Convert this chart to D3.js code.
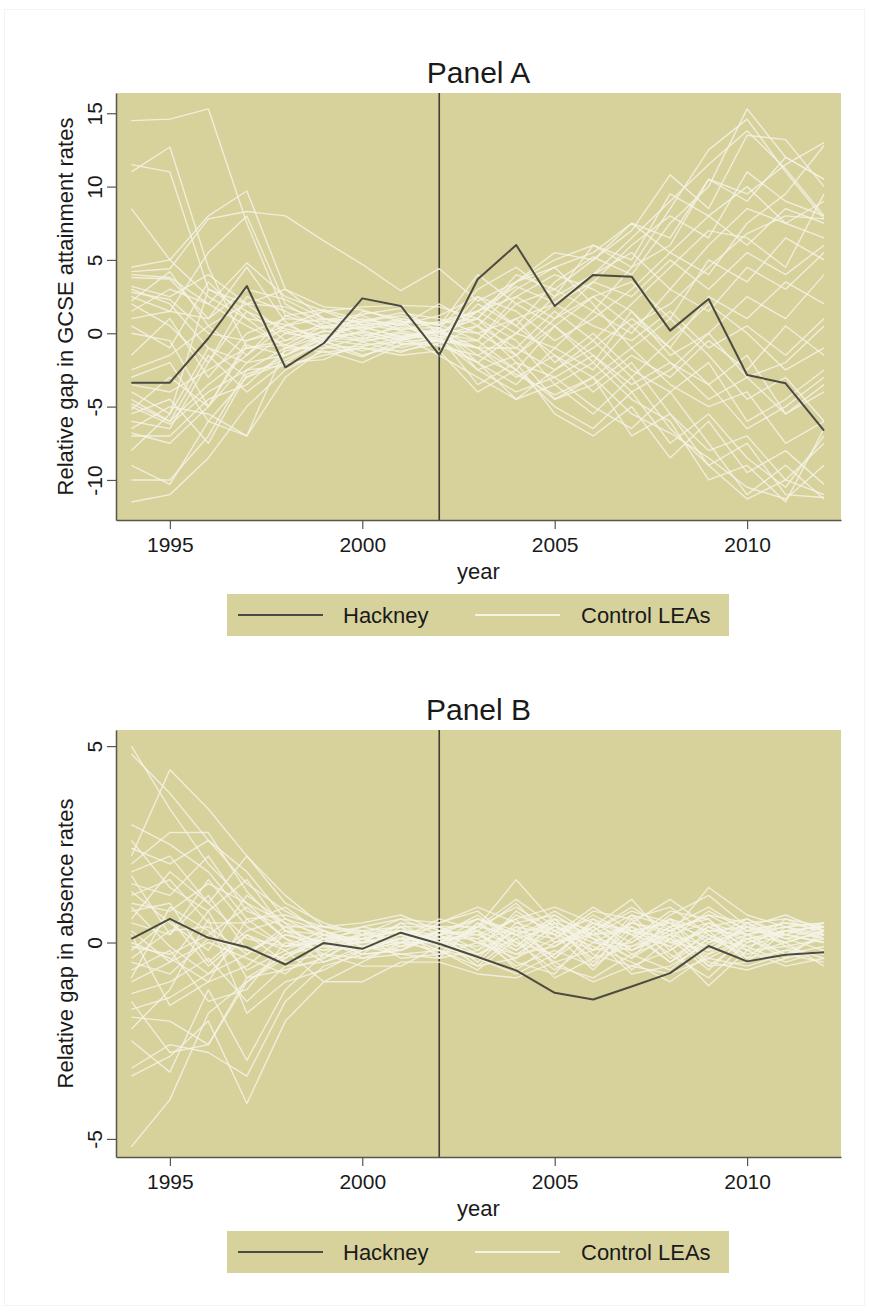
<!DOCTYPE html>
<html>
<head>
<meta charset="utf-8">
<script src="https://cdn.jsdelivr.net/npm/d3@7"></script>
<style>
  html, body { margin: 0; padding: 0; background: #ffffff; }
  svg { display: block; font-family: "Liberation Sans", Arial, sans-serif; }
</style>
</head>
<body>
<svg id="chart" width="869" height="1313"></svg>
<script>
// Years covered by both panels
const years = [1994,1995,1996,1997,1998,1999,2000,2001,2002,2003,2004,2005,2006,2007,2008,2009,2010,2011,2012];
const xTicks = [1995, 2000, 2005, 2010];
const reformYear = 2002;

// Panel A: relative gap in GCSE attainment rates
const hackneyA = [-3.37,-3.37,-0.34,3.22,-2.32,-0.68,2.38,1.86,-1.48,3.68,6.02,1.86,3.98,3.86,0.18,2.34,-2.84,-3.41,-6.64];
const controlsA = [
  [14.5,14.6,15.3,7.5,1.2,0.4,0.6,0.2,-0.4,1.5,3.2,2.1,4.0,6.5,9.0,11.5,13.8,11.2,8.0],
  [11.5,11.0,3.0,1.5,0.3,-0.2,0.5,-0.3,0.2,-1.5,-2.8,-4.2,-3.0,-5.5,-6.8,-8.5,-10.5,-11.3,-9.0],
  [11.0,12.7,4.5,-1.0,-0.8,0.5,-0.4,0.6,-0.6,2.0,0.5,3.5,5.2,4.0,7.5,10.0,15.3,12.0,10.5],
  [8.5,5.0,2.5,1.0,0.6,-0.5,0.8,0.3,0.4,-2.0,-3.5,-1.0,-2.5,0.5,2.0,4.5,6.8,8.0,7.8],
  [4.5,5.0,8.0,9.7,3.0,1.0,0.2,-0.5,0.1,1.0,-1.5,-4.5,-3.0,-7.0,-5.5,-9.0,-7.5,-11.0,-11.2],
  [4.2,4.4,7.8,8.3,8.0,6.3,4.7,2.9,4.4,2.2,3.5,5.5,5.0,7.0,10.8,8.5,13.5,13.2,10.0],
  [3.8,3.7,1.0,4.5,0.8,-0.8,1.5,1.0,0.3,3.0,4.5,2.5,6.0,4.5,8.5,12.5,14.6,11.0,7.8],
  [3.0,2.0,-1.0,-3.0,-2.0,-0.5,-1.5,-0.8,-0.2,-3.5,-2.0,-5.5,-7.0,-5.0,-8.5,-6.0,-9.5,-8.0,-10.3],
  [2.5,1.5,5.5,8.0,2.0,0.5,0.8,1.2,0.5,4.0,2.0,0.5,2.5,3.5,1.0,5.0,3.5,6.5,5.0],
  [2.0,0.5,-2.0,2.5,1.5,0.3,1.0,0.5,2.0,0.5,-1.0,1.5,-0.5,2.0,4.5,7.0,6.5,4.5,9.5],
  [1.5,3.0,2.0,4.8,2.5,1.5,1.8,1.9,1.8,1.0,3.5,4.5,2.0,-1.0,-3.5,-5.0,-4.0,-7.5,-6.0],
  [0.5,-1.0,3.5,1.0,-1.0,0.2,-0.6,0.0,-0.5,-1.0,1.0,-2.0,0.0,-2.5,-4.0,-2.0,-6.0,-4.5,-2.5],
  [-1.5,1.0,-3.0,0.0,1.0,0.8,-0.2,0.4,0.0,1.5,0.0,2.5,4.0,5.5,3.0,6.0,8.5,7.5,6.5],
  [-3.5,-4.0,-2.5,-1.0,-0.5,0.1,0.4,-0.2,0.2,-1.0,-3.0,-1.5,-4.0,-2.0,-5.5,-8.0,-7.0,-10.0,-7.5],
  [-4.0,-5.5,-1.0,-2.0,-1.5,-0.4,-0.8,-0.6,-0.3,2.5,1.5,-0.5,1.0,3.0,5.5,4.0,7.5,9.5,12.8],
  [-4.5,-6.0,-3.5,-1.5,0.5,1.5,0.6,0.8,0.6,-0.5,2.5,4.0,3.0,1.5,-1.5,0.0,-3.0,-2.0,0.5],
  [-5.0,-6.2,-4.0,-2.5,-1.0,-1.0,-0.3,-1.0,-0.4,-2.5,-1.5,0.5,-1.5,-3.5,-2.0,-4.5,-3.0,-5.5,-4.0],
  [-5.5,-4.5,-7.5,-2.8,-1.8,-0.6,-1.2,-0.4,-0.1,0.5,-2.0,-3.0,-5.0,-6.5,-4.0,-7.5,-11.0,-9.0,-11.3],
  [-6.0,-6.5,-2.0,1.5,-0.5,0.7,1.2,0.2,0.8,1.5,3.5,5.0,6.0,5.0,9.5,8.0,10.0,7.5,9.0],
  [-6.5,-5.0,-5.5,-7.0,-1.0,-0.2,0.0,-0.7,-0.8,-2.0,-4.5,-2.5,-1.0,1.0,-1.0,2.5,1.0,3.5,2.0],
  [-7.0,-7.0,-4.5,-3.5,-1.2,-0.8,-1.6,-0.5,0.3,0.0,1.0,2.0,0.5,-0.5,1.5,-1.0,0.5,-1.5,1.0],
  [-8.0,-5.5,3.0,2.0,0.0,0.4,0.3,0.7,-0.2,-1.0,-2.5,-5.0,-6.5,-4.0,-7.5,-5.5,-8.5,-10.5,-7.0],
  [-9.0,-10.3,-6.0,-3.0,-1.5,-0.3,-0.5,-0.2,-1.5,-3.0,-4.5,-3.5,-2.0,-4.5,-6.0,-10.0,-9.0,-11.5,-6.5],
  [-10.0,-10.0,-7.0,-2.5,-2.2,-1.5,-1.0,-1.2,-0.7,0.5,3.0,4.5,5.5,7.5,6.5,10.5,9.0,12.0,10.5],
  [-11.5,-11.0,-8.5,-5.0,-2.5,-1.2,-2.0,-0.8,-0.5,-2.0,0.0,-1.0,1.5,0.0,3.0,1.5,4.5,3.0,5.5],
  [2.8,2.3,0.0,-0.5,0.5,1.0,0.8,1.4,1.0,0.0,-1.5,1.0,2.5,0.5,-2.0,-3.5,-6.5,-5.0,-3.0],
  [-2.5,-1.5,0.5,-1.5,1.2,1.6,0.9,0.6,1.2,2.5,0.5,-1.5,-3.0,-1.0,1.0,-1.5,-4.5,-3.0,-6.0],
  [-5.2,-3.0,-5.0,-0.5,0.2,-0.7,0.2,0.9,-0.9,-1.5,0.0,2.0,3.5,6.0,8.0,6.5,11.0,9.0,8.0],
  [4.0,3.8,2.0,0.5,-0.8,-1.3,-1.0,-1.5,-1.2,-4.0,-2.5,0.5,-2.0,1.5,-1.0,-3.5,-1.5,-5.5,-3.5],
  [-3.0,-2.0,-6.0,-7.0,-3.0,-1.0,-0.9,-0.3,0.1,1.0,-0.5,-3.5,-5.5,-3.0,-6.5,-9.0,-11.3,-10.0,-11.0],
  [3.2,2.5,4.0,2.0,1.8,0.9,1.3,1.7,0.0,-0.5,2.0,3.0,1.5,4.5,6.0,10.5,9.5,11.5,13.0],
  [-4.8,-6.0,-1.5,-4.0,-2.0,-1.8,-0.6,-1.3,-0.4,-1.0,-1.0,-2.5,-0.5,-3.0,-0.5,2.0,0.0,-2.5,-1.0],
  [1.0,1.5,1.0,3.0,2.3,1.0,0.4,1.0,0.6,1.5,2.5,1.0,3.5,2.5,5.0,3.0,5.5,4.0,6.0],
  [-6.8,-7.5,-5.0,-0.8,-1.5,-0.1,-0.4,0.1,-0.6,-0.5,-2.5,-4.5,-3.5,-1.5,-3.0,-0.5,-2.5,0.5,-1.5],
  [0.0,-0.5,-5.0,-2.0,0.0,-0.4,0.1,-0.4,0.4,-2.5,-4.0,-3.0,-1.5,-4.0,-2.5,0.0,2.5,1.0,4.0],
  [2.2,4.2,0.5,2.0,3.0,1.8,1.6,0.8,0.7,1.0,4.0,3.0,5.0,7.5,5.5,8.0,6.0,8.5,7.5]
];
const yTicksA = [-10, -5, 0, 5, 10, 15];

// Panel B: relative gap in absence rates
const hackneyB = [0.09,0.60,0.12,-0.12,-0.56,-0.01,-0.16,0.25,-0.03,-0.37,-0.71,-1.28,-1.45,-1.12,-0.78,-0.09,-0.48,-0.31,-0.25];
const controlsB = [
  [5.0,3.4,2.0,1.0,0.5,0.2,0.1,0.3,0.1,0.4,1.6,0.5,0.2,0.7,0.4,0.9,0.3,0.5,0.4],
  [4.8,3.8,2.6,1.5,0.8,0.3,0.0,0.5,0.4,0.0,-0.3,0.3,0.6,-0.2,0.3,-0.4,0.1,0.3,0.2],
  [2.2,4.4,3.4,2.2,1.2,0.4,0.2,0.6,0.2,0.6,0.2,-0.5,-0.2,0.5,1.1,0.4,0.6,0.2,0.5],
  [2.4,2.0,2.6,1.8,0.6,0.1,0.3,0.0,0.5,0.9,0.5,0.7,0.1,-0.4,0.2,1.4,0.7,0.4,0.5],
  [2.0,2.8,2.8,1.3,0.3,0.0,0.1,-0.1,0.3,-0.2,0.8,0.2,0.9,0.3,-0.5,0.1,-0.3,0.0,0.3],
  [1.8,2.2,1.0,2.2,1.0,0.5,0.2,0.4,0.0,0.3,-0.5,-0.8,0.3,0.8,0.5,-0.2,0.2,-0.3,-0.1],
  [1.5,1.2,2.2,0.8,0.4,-0.1,0.0,0.2,-0.2,-0.6,0.2,0.5,-0.6,0.1,0.8,0.6,-0.2,0.6,0.4],
  [1.2,1.6,0.5,0.5,0.9,0.2,-0.1,0.1,0.6,0.3,1.0,0.0,0.4,1.1,0.0,0.3,0.4,0.1,0.2],
  [1.0,0.8,1.5,1.0,0.1,-0.2,0.2,0.3,0.2,0.7,-0.1,0.6,-0.3,-0.6,-0.2,0.5,0.2,0.5,0.3],
  [0.8,1.0,-0.5,0.3,0.6,0.3,-0.2,0.5,-0.1,-0.4,-0.8,-0.3,0.5,0.2,0.6,-0.6,-0.5,-0.2,-0.3],
  [0.5,0.2,1.2,-0.2,0.2,0.0,0.1,-0.2,0.3,0.2,0.6,-0.6,-0.9,-0.3,0.1,0.8,0.3,0.2,0.0],
  [0.3,-0.5,0.8,-0.9,-0.3,0.1,-0.3,0.4,-0.4,0.5,-0.2,0.4,0.1,-0.8,-0.6,0.0,0.5,-0.1,0.1],
  [0.0,-0.4,-1.0,-0.6,0.2,-0.1,0.0,0.0,0.0,-0.3,0.3,0.8,0.2,0.4,-0.3,-0.9,0.0,0.3,0.4],
  [-0.2,0.6,-0.6,0.2,-0.5,-0.3,0.3,-0.1,0.1,0.1,-0.6,-0.2,-0.6,0.6,0.9,0.2,-0.4,0.4,0.1],
  [-0.5,-0.8,0.1,-0.2,-0.4,0.1,-0.4,-0.3,-0.2,-0.7,0.1,-0.9,-0.4,-0.1,0.4,-0.5,-0.7,-0.4,-0.2],
  [-0.7,-0.2,-1.5,-1.2,0.0,-0.2,-0.1,0.2,0.4,0.4,0.9,0.3,-0.1,-0.5,-1.0,-0.3,0.1,0.2,0.5],
  [-1.0,-0.5,0.0,-0.4,-0.8,0.0,0.2,-0.4,-0.3,0.0,-0.4,0.1,0.7,0.2,-0.1,-1.1,-0.2,-0.6,-0.4],
  [-1.3,-1.0,-0.4,-1.5,-0.6,-0.5,-0.2,0.1,0.2,-0.5,0.4,-0.4,0.3,0.9,0.3,0.7,0.5,0.6,0.2],
  [-1.7,-1.4,-0.8,0.2,-0.2,-1.0,-1.0,-0.5,-0.5,-0.8,-0.9,-0.5,-1.0,-0.6,-0.8,-0.4,-0.6,-0.3,-0.5],
  [-1.9,-2.0,-2.6,-0.9,-0.7,-0.4,0.1,0.3,0.0,0.6,0.2,0.6,-0.2,0.0,0.7,1.2,0.4,0.7,0.3],
  [-3.2,-2.6,-2.8,-3.4,-1.5,-0.6,-0.3,-0.2,0.3,0.2,-0.3,-0.1,0.4,-0.3,-0.7,0.1,-0.1,-0.5,-0.2],
  [-3.4,-2.9,-2.0,-4.1,-2.0,-1.0,-0.5,0.0,-0.2,-0.4,0.5,0.2,-0.7,0.3,0.1,-0.7,0.2,0.0,-0.6],
  [-5.2,-4.0,-1.8,-1.0,-0.4,0.2,0.4,0.6,0.5,0.8,0.0,-0.7,0.0,0.5,0.2,0.5,0.0,0.3,0.1],
  [-2.5,-3.3,-1.2,-3.0,-1.2,-0.3,-0.6,-0.6,-0.1,0.4,1.1,0.4,0.2,0.3,0.5,0.1,0.6,0.1,0.4],
  [3.0,2.5,1.8,0.6,0.7,0.4,0.5,0.7,0.3,0.1,0.6,0.9,0.5,0.0,0.6,0.3,0.2,0.4,0.5],
  [0.6,1.8,1.0,0.1,-0.1,0.3,-0.1,-0.3,-0.4,-0.2,0.3,0.1,0.8,0.6,-0.4,0.2,-0.2,-0.1,-0.4],
  [-0.4,0.3,0.4,-0.3,0.3,0.2,0.0,0.2,0.1,-0.6,-0.4,0.5,-0.5,0.4,0.0,-0.2,0.4,0.2,0.0],
  [1.3,0.5,-0.2,1.2,0.5,-0.4,0.2,0.1,-0.3,0.5,0.0,-0.3,0.4,-0.2,0.4,0.6,-0.4,-0.2,0.1],
  [-0.9,0.9,0.3,-0.7,-0.2,0.2,-0.3,-0.2,0.2,0.3,-0.7,0.0,0.2,-0.4,0.6,0.0,0.3,0.5,0.3],
  [0.2,-1.6,-1.0,0.6,-0.1,0.1,0.1,0.3,0.0,-0.1,0.7,0.3,-0.4,0.7,-0.2,0.4,0.1,-0.3,0.2],
  [2.6,1.4,0.8,1.6,0.3,-0.3,-0.4,-0.1,0.1,0.2,-0.2,0.6,0.3,-0.7,0.1,-0.3,0.5,0.1,-0.2],
  [-2.2,-1.2,0.6,-1.8,-1.0,-0.7,-0.2,0.0,0.3,0.6,0.3,-0.4,0.6,0.2,-0.5,0.3,-0.5,0.3,0.4],
  [0.9,-0.1,-0.8,-0.3,0.4,0.4,0.3,0.4,0.4,0.0,0.4,0.2,-0.2,0.5,0.3,0.7,0.2,0.4,0.2],
  [-1.5,-2.8,-2.6,-1.0,-0.3,-0.1,-0.2,0.1,0.0,0.3,-0.1,0.7,0.1,-0.1,0.2,-0.1,0.4,0.0,0.3],
  [1.7,0.2,1.6,0.4,-0.1,0.0,0.4,0.2,-0.1,0.4,0.2,-0.1,0.5,0.3,-0.1,0.4,-0.1,0.2,0.0],
  [-0.1,-0.3,0.2,0.9,0.1,-0.5,-0.1,-0.2,0.2,-0.3,0.1,0.4,0.0,-0.2,0.2,-0.6,0.1,-0.4,0.3]
];
const yTicksB = [-5, 0, 5];

const legendLabels = ["Hackney", "Control LEAs"];

// Styling
const plotFill = "#d7d19c";
const axisColor = "#56564a";
const hackneyColor = "#4b4b42";
const controlColor = "#f5f3e6";
const textColor = "#1a1a1a";

// integer labels with a plain hyphen for negatives
const intLabel = d => String(Math.round(d));

const svg = d3.select("#chart");

// faint outer frame of the graph region
svg.append("rect")
  .attr("x", 4.5).attr("y", 9.5).attr("width", 860).attr("height", 1296)
  .attr("fill", "none").attr("stroke", "#f3f3f0").attr("stroke-width", 1);

const panels = [
  { title: "Panel A", ylabel: "Relative gap in GCSE attainment rates", hackney: hackneyA, controls: controlsA,
    yTicks: yTicksA, yDomain: [-12.73, 16.38], top: 93, bottom: 520 },
  { title: "Panel B", ylabel: "Relative gap in absence rates", hackney: hackneyB, controls: controlsB,
    yTicks: yTicksB, yDomain: [-5.46, 5.41], top: 730, bottom: 1157 }
];

const left = 116, right = 841;

panels.forEach(p => {
  const x = d3.scaleLinear().domain([1993.6, 2012.44]).range([left, right]);
  const y = d3.scaleLinear().domain(p.yDomain).range([p.bottom, p.top]);
  const g = svg.append("g");

  // plot region
  g.append("rect")
    .attr("x", left).attr("y", p.top)
    .attr("width", right - left).attr("height", p.bottom - p.top)
    .attr("fill", plotFill);

  // reform year marker
  g.append("line")
    .attr("x1", x(reformYear)).attr("x2", x(reformYear))
    .attr("y1", p.top).attr("y2", p.bottom)
    .attr("stroke", "#3f3f33").attr("stroke-width", 1.6);

  const line = d3.line().x((d, i) => x(years[i])).y(d => y(d));

  // control LEAs
  g.append("g").selectAll("path").data(p.controls).join("path")
    .attr("d", line)
    .attr("fill", "none")
    .attr("stroke", controlColor)
    .attr("stroke-opacity", 0.85)
    .attr("stroke-width", 1.4)
    .attr("stroke-linejoin", "round");

  // Hackney
  g.append("path")
    .attr("d", line(p.hackney))
    .attr("fill", "none")
    .attr("stroke", hackneyColor)
    .attr("stroke-width", 2)
    .attr("stroke-linejoin", "round");

  // x axis
  const xAxis = g.append("g")
    .attr("transform", `translate(0,${p.bottom})`)
    .call(d3.axisBottom(x).tickValues(xTicks).tickFormat(intLabel)
      .tickSizeInner(9).tickSizeOuter(0).tickPadding(8));
  xAxis.select(".domain").attr("stroke", axisColor).attr("stroke-width", 1.5);
  xAxis.selectAll(".tick line").attr("stroke", axisColor).attr("stroke-width", 1.2);
  xAxis.selectAll(".tick text")
    .attr("font-size", 21).attr("fill", textColor)
    .attr("font-family", "Liberation Sans, Arial, sans-serif");

  // y axis with vertical tick labels
  const yAxis = g.append("g")
    .attr("transform", `translate(${left},0)`)
    .call(d3.axisLeft(y).tickValues(p.yTicks).tickSizeInner(9).tickSizeOuter(0).tickFormat(intLabel));
  yAxis.select(".domain").attr("stroke", axisColor).attr("stroke-width", 1.5);
  yAxis.selectAll(".tick line").attr("stroke", axisColor).attr("stroke-width", 1.2);
  yAxis.selectAll(".tick text")
    .attr("x", null).attr("dy", null)
    .attr("transform", "translate(-14,0) rotate(-90)")
    .attr("text-anchor", "middle")
    .attr("font-size", 21).attr("fill", textColor)
    .attr("font-family", "Liberation Sans, Arial, sans-serif");

  // axis titles
  g.append("text")
    .attr("transform", `translate(73,${(p.top + p.bottom) / 2}) rotate(-90)`)
    .attr("text-anchor", "middle")
    .attr("font-size", 22).attr("fill", textColor)
    .text(p.ylabel);

  g.append("text")
    .attr("x", (left + right) / 2).attr("y", p.bottom + 59)
    .attr("text-anchor", "middle")
    .attr("font-size", 22).attr("fill", textColor)
    .text("year");

  // panel title
  g.append("text")
    .attr("x", (left + right) / 2).attr("y", p.top - 10)
    .attr("text-anchor", "middle")
    .attr("font-size", 30).attr("fill", textColor)
    .text(p.title);

  // legend
  const lg = g.append("g").attr("transform", `translate(0,${p.bottom + 74})`);
  lg.append("rect")
    .attr("x", 227).attr("y", 0).attr("width", 502).attr("height", 42)
    .attr("fill", plotFill);
  const items = [
    { label: legendLabels[0], color: hackneyColor, x1: 238, x2: 323, tx: 343 },
    { label: legendLabels[1], color: controlColor, x1: 475, x2: 560, tx: 581 }
  ];
  items.forEach(it => {
    lg.append("line")
      .attr("x1", it.x1).attr("x2", it.x2).attr("y1", 21).attr("y2", 21)
      .attr("stroke", it.color).attr("stroke-width", 2);
    lg.append("text")
      .attr("x", it.tx).attr("y", 29)
      .attr("font-size", 22).attr("fill", textColor)
      .text(it.label);
  });
});
</script>
</body>
</html>
